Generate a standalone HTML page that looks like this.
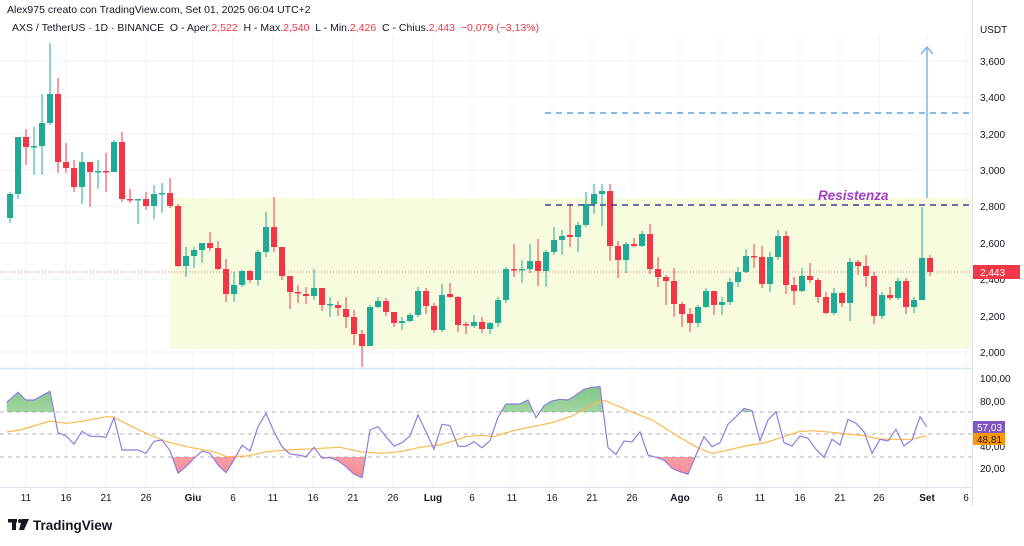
<!DOCTYPE html>
<html><head><meta charset="utf-8"><style>
body{margin:0;width:1024px;height:546px;background:#fff;overflow:hidden;font-family:"Liberation Sans",sans-serif;}
svg{position:absolute;left:0;top:0}
</style></head><body>
<svg id="s" width="1024" height="546" viewBox="0 0 1024 546" xmlns="http://www.w3.org/2000/svg" font-family="Liberation Sans, sans-serif">
<defs>
<linearGradient id="gg" x1="0" y1="0" x2="0" y2="1"><stop offset="0" stop-color="#4caf50" stop-opacity="0.7"/><stop offset="1" stop-color="#4caf50" stop-opacity="0.05"/></linearGradient>
<linearGradient id="rg" x1="0" y1="0" x2="0" y2="1"><stop offset="0" stop-color="#f23645" stop-opacity="0.05"/><stop offset="1" stop-color="#f23645" stop-opacity="0.6"/></linearGradient>
<clipPath id="above"><rect x="0" y="372" width="973" height="40"/></clipPath>
<clipPath id="below"><rect x="0" y="457" width="973" height="30"/></clipPath>
</defs>
<g id="grid" stroke="#f0f3fa" stroke-width="1"></g>
<rect x="170" y="198" width="803" height="151" fill="#f8fcdf"/>
<line x1="0" y1="272" x2="973" y2="272" stroke="#f23645" stroke-width="1" stroke-dasharray="1,2" opacity="0.7"/>
<g id="candles"></g>
<line x1="545" y1="113" x2="973" y2="113" stroke="#3d8fd6" stroke-width="1.3" stroke-dasharray="6,5"/>
<line x1="545" y1="205" x2="973" y2="205" stroke="#3c3f9e" stroke-width="1.5" stroke-dasharray="6,5"/>
<line x1="927" y1="198" x2="927" y2="48" stroke="#7fb3ea" stroke-width="1.5"/>
<polyline points="921,54 927,47 933,54" fill="none" stroke="#7fb3ea" stroke-width="1.5"/>
<text x="818" y="200" font-size="13.5" font-weight="bold" font-style="italic" fill="#a13ec4">Resistenza</text>
<line x1="0" y1="368.5" x2="973" y2="368.5" stroke="#d8e6ee" stroke-width="1.5"/>
<line x1="0" y1="487.5" x2="973" y2="487.5" stroke="#e0e3eb"/>
<line x1="972.5" y1="0" x2="972.5" y2="507" stroke="#e0e3eb"/>
<line x1="0" y1="412" x2="973" y2="412" stroke="#9598a1" stroke-dasharray="4,4" opacity="0.7"/>
<line x1="0" y1="434" x2="973" y2="434" stroke="#9598a1" stroke-dasharray="4,4" opacity="0.7"/>
<line x1="0" y1="457" x2="973" y2="457" stroke="#9598a1" stroke-dasharray="4,4" opacity="0.7"/>
<g id="rsi"></g>
<g font-size="10" fill="#131722">
<text x="980" y="33">USDT</text>
<text x="980" y="65">3,600</text><text x="980" y="101">3,400</text><text x="980" y="138">3,200</text><text x="980" y="174">3,000</text><text x="980" y="210">2,800</text><text x="980" y="247">2,600</text><text x="980" y="283">2,400</text><text x="980" y="320">2,200</text><text x="980" y="356">2,000</text>
<text x="980" y="382">100,00</text><text x="980" y="405">80,00</text><text x="980" y="450">40,00</text><text x="980" y="472">20,00</text>
</g>
<rect x="973" y="265" width="47" height="14" fill="#f23645"/><text x="980" y="276" font-size="10" fill="#fff">2,443</text>
<rect x="973" y="421" width="32" height="12" fill="#7e57c2"/><text x="977" y="431" font-size="10" fill="#fff">57,03</text>
<rect x="973" y="433" width="32" height="12" fill="#ff9800"/><text x="977" y="443" font-size="10" fill="#131722">48,81</text>
<g id="xl" font-size="10" fill="#131722" text-anchor="middle"></g>
<text x="7" y="13" font-size="10.5" fill="#131722">Alex975 creato con TradingView.com, Set 01, 2025 06:04 UTC+2</text>
<text x="12" y="31" font-size="10.5" fill="#131722" xml:space="preserve">AXS / TetherUS · 1D · BINANCE  O - Aper.<tspan fill="#f23645">2,522</tspan>  H - Max.<tspan fill="#f23645">2,540</tspan>  L - Min.<tspan fill="#f23645">2,426</tspan>  C - Chius.<tspan fill="#f23645">2,443</tspan>  <tspan fill="#f23645">−0,079 (−3,13%)</tspan></text>
<g fill="#131722"><rect x="8" y="519" width="9" height="3.5"/><rect x="12" y="519" width="4" height="11"/><circle cx="20" cy="521" r="2"/><polygon points="22,519 29,519 24,530 19,530"/></g>
<text x="33" y="530" font-size="13.5" font-weight="bold" fill="#131722">TradingView</text>
</svg>
<script>
var NS="http://www.w3.org/2000/svg";
function el(p,t,a){var e=document.createElementNS(NS,t);for(var k in a)e.setAttribute(k,a[k]);p.appendChild(e);return e;}
var C=[
"g,194,218,192,223","g,137,194,137,199","r,137,147,129,165","g,146,147,127,175","g,123,146,94,175","g,94,123,43,125","r,94,162,78,173","r,162,168,143,173","r,168,187,160,192","g,162,187,152,204","r,162,172,162,207","g,171,172,160,189","r,171,172,153,192","g,142,172,140,172","r,142,199,132,202","r,199,200,189,203","g,199,200,199,224","r,199,206,192,210","g,194,206,185,219","g,193,194,183,213","r,193,206,178,208","r,206,266,204,267","g,256,266,247,277","g,250,256,247,268","g,243,250,243,263","r,243,248,232,251","r,248,269,241,270","r,269,294,259,302","g,285,294,272,302","g,271,285,270,287","r,271,280,270,283","g,252,280,250,286","g,227,252,212,257","r,227,247,197,252","r,247,276,247,280","r,276,292,276,309","r,292,293,285,303","r,294,296,287,304","g,288,296,269,300","r,288,305,288,311","g,304,305,297,317","r,305,308,301,316","r,309,317,297,328","r,317,334,310,345","r,334,346,330,367","g,307,346,305,346","g,301,307,297,308","r,301,312,298,316","r,312,323,312,327","g,321,323,317,330","g,315,321,313,322","g,291,315,287,317","r,291,306,288,314","r,306,330,303,333","g,295,330,284,332","r,294,297,283,298","r,297,325,296,332","r,324,325,322,334","g,322,326,315,328","r,322,329,317,333","g,323,329,322,334","g,300,323,297,327","g,269,300,267,303","r,269,270,244,277","g,269,270,260,283","g,261,269,244,273","r,261,271,239,286","g,252,271,250,287","g,240,252,227,255","g,236,240,230,255","r,235,237,204,247","g,225,237,222,252","g,204,225,192,227","g,194,204,184,214","g,191,194,184,226","r,191,246,184,261","r,246,260,241,278","g,244,260,242,273","r,244,246,238,247","g,234,246,231,247","r,234,269,224,274","r,269,277,257,287","r,277,281,275,305","r,281,304,268,317","r,304,314,302,327","r,314,323,308,332","g,307,323,305,327","g,291,307,288,308","r,291,305,291,315","g,302,305,297,315","g,282,302,278,305","g,272,282,267,287","g,256,272,249,273","r,256,257,244,268","r,257,284,246,288","g,257,284,252,292","g,236,257,230,260","r,236,285,231,294","r,285,291,277,305","g,276,291,268,292","r,276,280,263,283","r,280,297,278,303","r,297,313,292,314","g,293,313,288,315","r,293,303,292,307","g,262,303,258,321","r,262,266,260,275","r,266,276,255,287","r,276,316,272,324","g,295,316,292,319","r,295,298,287,300","g,281,298,278,300","r,281,307,278,314","g,300,307,297,313","g,258,300,207,300","r,258,272,255,276"];
var cg=document.getElementById("candles");
C.forEach(function(s,i){var a=s.split(",");var x=10+8*i;var col=a[0]=="g"?"#22ab94":"#f23645";var t=+a[1],b=+a[2];if(b-t<1.5)b=t+1.5;
el(cg,"line",{x1:x,x2:x,y1:a[3],y2:a[4],stroke:col,"stroke-width":1});
el(cg,"rect",{x:x-3,y:t,width:6,height:b-t,fill:col});});
var gg=document.getElementById("grid");
[61,97,134,170,206,243,279,316,352].forEach(function(y){el(gg,"line",{x1:0,x2:973,y1:y,y2:y});});
var XL=[[26,"11"],[66,"16"],[106,"21"],[146,"26"],[193,"Giu",1],[233,"6"],[273,"11"],[313,"16"],[353,"21"],[393,"26"],[433,"Lug",1],[472,"6"],[512,"11"],[552,"16"],[592,"21"],[632,"26"],[680,"Ago",1],[720,"6"],[760,"11"],[800,"16"],[840,"21"],[879,"26"],[927,"Set",1],[966,"6"]];
var xl=document.getElementById("xl");
XL.forEach(function(d){el(gg,"line",{x1:d[0],x2:d[0],y1:35,y2:487});var t=el(xl,"text",{x:d[0],y:501});if(d[2])t.setAttribute("font-weight","bold");t.textContent=d[1];});
var R5=[[20,97],[54,67],[78,90],[102,90],[126,77],[150,64],[174,188],[198,198],[222,222],[246,184],[270,199],[294,199],[318,202],[342,143],[366,240],[390,240],[414,240],[438,250],[462,214],[486,210],[510,242],[534,310],[558,290],[582,265],[606,243],[630,250],[654,285],[678,308],[702,270],[726,226],[750,243],[774,170],[798,130],[822,185],[846,230],[870,252],[894,255],[918,260],[942,232],[966,264],[990,263],[1014,272],[1038,290],[1062,313],[1086,323],[1110,180],[1134,170],[1158,200],[1182,228],[1206,218],[1230,198],[1254,135],[1278,185],[1302,238],[1326,163],[1350,167],[1374,229],[1398,229],[1422,215],[1446,233],[1470,212],[1494,142],[1518,102]];
var R6=[[24,102],[48,90],[72,143],[96,107],[120,93],[144,88],[168,90],[192,75],[216,58],[240,52],[264,50],[288,233],[312,253],[336,213],[360,216],[384,185],[408,255],[432,262],[456,270],[480,295],[504,305],[528,313],[552,255],[576,200],[600,230],[624,218],[648,163],[672,140],[696,115],[720,122],[744,212],[768,150],[792,125],[816,218],[840,228],[864,198],[888,205],[912,238],[936,262],[960,208],[984,225],[1008,148],[1032,160],[1056,185],[1080,250],[1104,208],[1128,213],[1152,178],[1176,228],[1200,210],[1224,140],[1244,170]];
var M5=[[20,186],[60,180],[150,153],[200,160],[240,155],[318,140],[342,142],[400,172],[450,195],[500,215],[560,230],[640,245],[680,260],[740,258],[800,245],[860,240],[940,236],[1020,232],[1080,245],[1150,250],[1200,245],[1260,232],[1320,225],[1400,200],[1440,196],[1480,200],[1536,183]];
var M6=[[60,170],[120,158],[180,138],[260,95],[280,92],[340,118],[420,150],[500,200],[560,235],[600,250],[640,242],[700,228],[760,218],[800,205],[860,185],[900,182],[960,187],[1000,192],[1060,197],[1100,207],[1140,208],[1200,208],[1244,197]];
function pts(A,ox){return A.map(function(p){return [ox+p[0]/3,370+p[1]/3];});}
var rp=pts(R5,0).concat(pts(R6,512)),mp=pts(M5,0).concat(pts(M6,512));
function str(P){return P.map(function(p){return p[0].toFixed(1)+","+p[1].toFixed(1);}).join(" ");}
var rg=document.getElementById("rsi");
var x0=rp[0][0],x1=rp[rp.length-1][0];
el(rg,"polygon",{points:str(rp)+" "+x1+",412 "+x0+",412",fill:"url(#gg)","clip-path":"url(#above)"});
el(rg,"polygon",{points:str(rp)+" "+x1+",457 "+x0+",457",fill:"url(#rg)","clip-path":"url(#below)"});
el(rg,"polyline",{points:str(mp),fill:"none",stroke:"#ffb74d","stroke-width":1.2});
el(rg,"polyline",{points:str(rp),fill:"none",stroke:"#8c7ee0","stroke-width":1.2});
</script>
</body></html>
